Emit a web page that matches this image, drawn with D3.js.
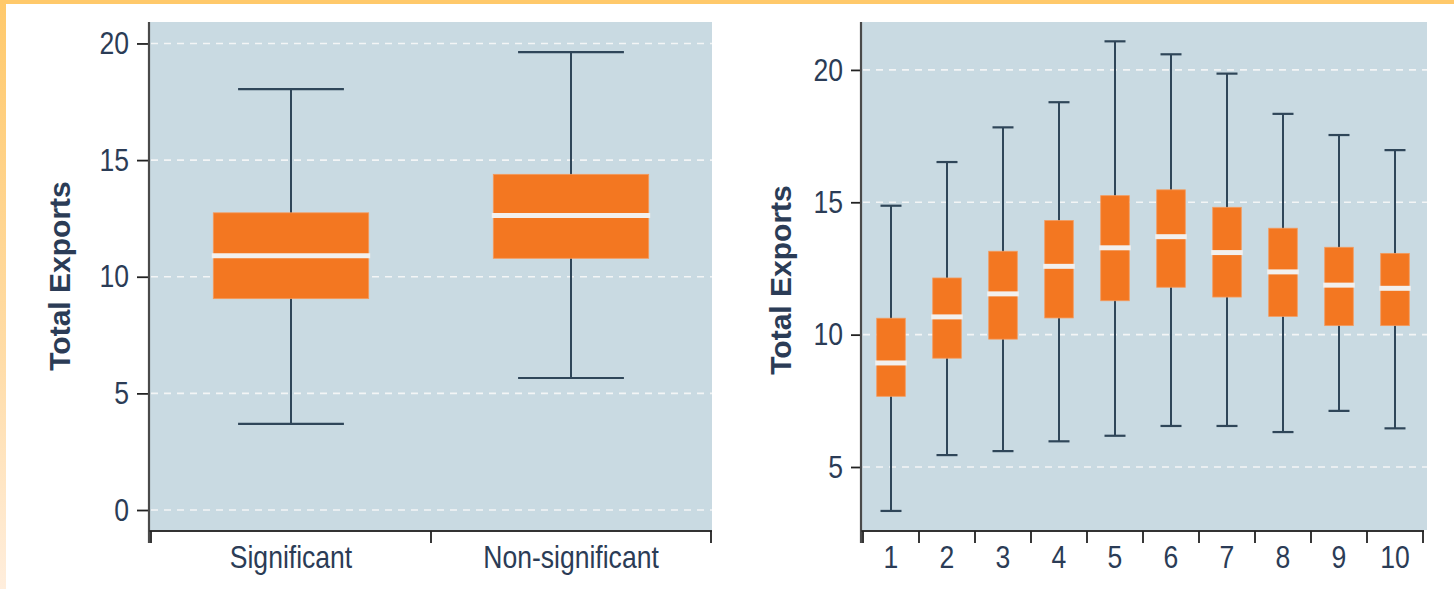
<!DOCTYPE html>
<html>
<head>
<meta charset="utf-8">
<script src="https://cdn.jsdelivr.net/npm/d3@7"></script>
<style>
  html, body { margin: 0; padding: 0; background: #ffffff; }
  svg { display: block; }
</style>
</head>
<body>
<svg id="chart" width="1454" height="589"></svg>
<script>
// ---------- data ----------
const leftCategories = ["Significant", "Non-significant"];
const leftMin    = [3.69, 5.66];
const leftQ1     = [9.06, 10.79];
const leftMedian = [10.90, 12.63];
const leftQ3     = [12.74, 14.39];
const leftMax    = [18.04, 19.63];
const leftTicks  = [0, 5, 10, 15, 20];

const rightCategories = ["1", "2", "3", "4", "5", "6", "7", "8", "9", "10"];
const rightMin    = [3.34, 5.45, 5.60, 5.97, 6.18, 6.55, 6.55, 6.32, 7.12, 6.46];
const rightQ1     = [7.67, 9.11, 9.83, 10.63, 11.28, 11.79, 11.42, 10.69, 10.34, 10.34];
const rightMedian = [8.93, 10.67, 11.54, 12.58, 13.28, 13.70, 13.10, 12.37, 11.87, 11.75];
const rightQ3     = [10.62, 12.14, 13.15, 14.31, 15.25, 15.47, 14.81, 14.02, 13.30, 13.07];
const rightMax    = [14.87, 16.52, 17.83, 18.78, 21.08, 20.59, 19.86, 18.34, 17.54, 16.97];
const rightTicks  = [5, 10, 15, 20];

const yLabel = "Total Exports";

// ---------- styles ----------
const BG = "#c9dae2";
const ORANGE = "#f37721";
const WHISKER = "#2f4659";
const TEXT = "#2b3c56";
const MEDIAN = "#f2f0ee";
const FONT = "'Liberation Sans', Arial, sans-serif";
const NARROW_SCALE = 0.83;

const svg = d3.select("#chart");

// frame decoration
const defs = svg.append("defs");
const grad = defs.append("linearGradient").attr("id", "leftStrip")
  .attr("x1", 0).attr("y1", 0).attr("x2", 0).attr("y2", 1);
grad.append("stop").attr("offset", "0%").attr("stop-color", "#ffc96b");
grad.append("stop").attr("offset", "60%").attr("stop-color", "#ffdca6");
grad.append("stop").attr("offset", "100%").attr("stop-color", "#ffeedd");
svg.append("rect").attr("x", 0).attr("y", 0).attr("width", 6).attr("height", 589).attr("fill", "url(#leftStrip)");
svg.append("rect").attr("x", 0).attr("y", 0).attr("width", 1454).attr("height", 4).attr("fill", "#ffc96b");

function panel(cfg) {
  const { right, top, bottom, axisX, yDomain, cats, mins, q1s, meds, q3s, maxs, ticks,
          boxFrac, capFrac, tickLen, labelCx, labelCy, xRange } = cfg;

  const y = d3.scaleLinear().domain(yDomain).range([bottom, top]);
  const x = d3.scaleBand().domain(cats).range(xRange).padding(0);
  const g = svg.append("g");

  // background
  g.append("rect").attr("x", axisX).attr("y", top)
    .attr("width", right - axisX).attr("height", bottom - top).attr("fill", BG);

  // grid
  g.append("g").selectAll("line").data(ticks).join("line")
    .attr("x1", axisX + 2).attr("x2", right)
    .attr("y1", d => y(d)).attr("y2", d => y(d))
    .attr("stroke", "#f3f5f6").attr("stroke-width", 1.6)
    .attr("stroke-dasharray", "7,6");

  // boxes
  const data = cats.map((c, i) => ({ c, min: mins[i], q1: q1s[i], med: meds[i], q3: q3s[i], max: maxs[i] }));
  const bw = x.bandwidth() * boxFrac;
  const cw = x.bandwidth() * capFrac;
  const cx = d => x(d.c) + x.bandwidth() / 2;
  const bg = g.append("g").selectAll("g").data(data).join("g");

  bg.append("line").attr("x1", cx).attr("x2", cx)
    .attr("y1", d => y(d.max)).attr("y2", d => y(d.min))
    .attr("stroke", WHISKER).attr("stroke-width", 2);
  bg.append("line").attr("x1", d => cx(d) - cw / 2).attr("x2", d => cx(d) + cw / 2)
    .attr("y1", d => y(d.max)).attr("y2", d => y(d.max))
    .attr("stroke", WHISKER).attr("stroke-width", 2.2);
  bg.append("line").attr("x1", d => cx(d) - cw / 2).attr("x2", d => cx(d) + cw / 2)
    .attr("y1", d => y(d.min)).attr("y2", d => y(d.min))
    .attr("stroke", WHISKER).attr("stroke-width", 2.2);
  bg.append("rect")
    .attr("x", d => cx(d) - bw / 2).attr("width", bw)
    .attr("y", d => y(d.q3)).attr("height", d => y(d.q1) - y(d.q3))
    .attr("fill", ORANGE).attr("stroke", "#f59a5c").attr("stroke-width", 0.8);
  bg.append("line").attr("x1", d => cx(d) - bw / 2 - 1.5).attr("x2", d => cx(d) + bw / 2 + 1.5)
    .attr("y1", d => y(d.med)).attr("y2", d => y(d.med))
    .attr("stroke", MEDIAN).attr("stroke-width", 5);

  // y axis
  const ya = g.append("g").attr("transform", `translate(${axisX},0)`)
    .call(d3.axisLeft(y).tickValues(ticks).tickSize(tickLen).tickPadding(8).tickSizeOuter(0));
  ya.select(".domain").remove();
  ya.selectAll(".tick line").attr("stroke", "#222").attr("stroke-width", 1.8);
  ya.selectAll(".tick text").attr("fill", TEXT)
    .attr("x", -(tickLen + 8) / NARROW_SCALE)
    .attr("transform", `scale(${NARROW_SCALE},1)`)
    .style("font-family", FONT).style("font-size", "32px");

  // y axis line
  g.append("line").attr("x1", axisX).attr("x2", axisX).attr("y1", top).attr("y2", bottom + 13)
    .attr("stroke", "#4a4a4a").attr("stroke-width", 2.2);

  // x axis
  const xa = g.append("g").attr("transform", `translate(0,${bottom + 1})`)
    .call(d3.axisBottom(x).tickSize(0).tickPadding(14));
  xa.select(".domain").remove();
  xa.selectAll(".tick text").attr("fill", TEXT)
    .attr("transform", `scale(${NARROW_SCALE},1)`)
    .style("font-family", FONT).style("font-size", "32px");
  g.append("line").attr("x1", axisX).attr("x2", xRange[1] + 1)
    .attr("y1", bottom + 1).attr("y2", bottom + 1)
    .attr("stroke", "#333").attr("stroke-width", 1.8);
  const bounds = cats.map(c => x(c)).concat([xRange[1]]);
  g.append("g").selectAll("line").data(bounds).join("line")
    .attr("x1", d => d).attr("x2", d => d)
    .attr("y1", bottom + 1).attr("y2", bottom + 13)
    .attr("stroke", "#222").attr("stroke-width", 1.8);

  // y label
  g.append("text")
    .attr("transform", `translate(${labelCx},${labelCy}) rotate(-90)`)
    .attr("text-anchor", "middle").attr("dominant-baseline", "central")
    .attr("fill", TEXT)
    .style("font-family", FONT)
    .style("font-weight", "bold").style("font-size", "30px")
    .text(yLabel);
}

panel({
  right: 712, top: 22, bottom: 530, axisX: 149,
  xRange: [151, 711],
  yDomain: [-0.857, 20.92],
  cats: leftCategories, mins: leftMin, q1s: leftQ1, meds: leftMedian, q3s: leftQ3, maxs: leftMax,
  ticks: leftTicks, boxFrac: 0.555, capFrac: 0.378, tickLen: 12,
  labelCx: 59, labelCy: 276
});

panel({
  right: 1427, top: 22, bottom: 530, axisX: 861,
  xRange: [863, 1423],
  yDomain: [2.62, 21.81],
  cats: rightCategories, mins: rightMin, q1s: rightQ1, meds: rightMedian, q3s: rightQ3, maxs: rightMax,
  ticks: rightTicks, boxFrac: 0.51, capFrac: 0.375, tickLen: 10,
  labelCx: 780, labelCy: 280
});
</script>
</body>
</html>
